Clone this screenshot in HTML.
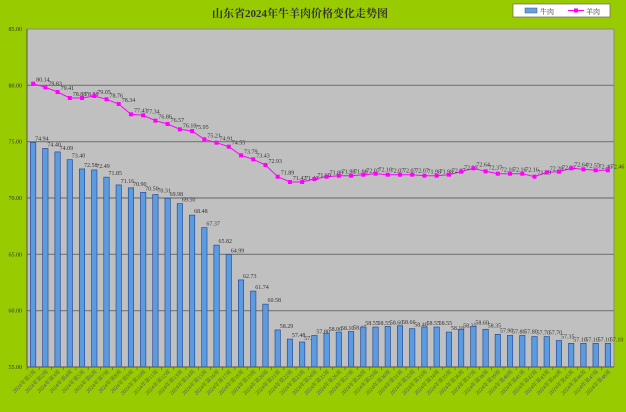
<!DOCTYPE html>
<html><head><meta charset="utf-8"><style>
body{margin:0;background:#99cc00;}
svg{display:block}
text{font-family:"Liberation Serif","Noto Serif CJK SC",serif;}
</style></head><body>
<svg id="s" width="626" height="412" xmlns="http://www.w3.org/2000/svg">
<rect width="626" height="412" fill="#99cc00"/>
<text x="300" y="17" font-size="11" font-weight="bold" text-anchor="middle" fill="#333">山东省2024年牛羊肉价格变化走势图</text>
<rect x="513" y="4" width="97" height="13" fill="#fff" stroke="#666" stroke-width="0.7"/>
<rect x="525" y="8" width="12" height="5" fill="#6a9fdc" stroke="#2a4f9a" stroke-width="0.5"/>
<text x="540" y="14" font-size="7" fill="#333">牛肉</text>
<line x1="568" y1="10.5" x2="584" y2="10.5" stroke="#ff00ff" stroke-width="1"/>
<rect x="574" y="8.5" width="4" height="4" fill="#ff00ff"/>
<text x="586" y="14" font-size="7" fill="#333">羊肉</text>
<rect x="27" y="29" width="587" height="338" fill="#c0c0c0" stroke="#888" stroke-width="1"/>
<g id="g"></g>
</svg>
<script>
(function(){
var g=document.getElementById('g'),h='';
var T=29,B=367,L=27,W=587,n=48,cw=W/n;
function Y(v){return B-(v-55)*(B-T)/30;}
for(var v=55;v<=85;v+=5){var y=Y(v);
 if(v>55&&v<85)h+='<line x1="27" y1="'+y+'" x2="614" y2="'+y+'" stroke="#777" stroke-width="1.2"/>';
 h+='<text x="22" y="'+(y+2)+'" font-size="6" text-anchor="end" fill="#333">'+v.toFixed(2)+'</text>';}
var beef=[74.94,74.40,74.09,73.40,72.58,72.49,71.85,71.16,70.90,70.50,70.31,69.98,69.50,68.48,67.37,65.82,64.99,62.73,61.74,60.58,58.29,57.48,57.22,57.80,58.00,58.10,58.15,58.55,58.55,58.60,58.66,58.40,58.55,58.55,58.10,58.35,58.60,58.35,57.90,57.80,57.80,57.70,57.70,57.35,57.10,57.10,57.10,57.10];
var ly=[83.7,87.3,92,98,98,96,99.3,104,114.3,115.3,120.7,124,129.3,131,139.3,142.7,146.7,155.3,159.3,165,176.7,182,182,179,176.7,175.7,175.7,174.7,173.7,174.7,174.7,174.7,175.7,175.7,174.7,171.7,168.3,171.3,173.7,173.7,173.7,176.7,172.3,171.7,168.3,169.3,170.3,170.3];
var pts=[];
for(var i=0;i<n;i++){var cx=L+cw*(i+0.5),y=Y(beef[i]);
 h+='<rect x="'+(cx-2.7)+'" y="'+y+'" width="5.4" height="'+(B-y)+'" fill="#5b9bdf" stroke="#1f3f8f" stroke-width="0.6"/>';
 h+='<text x="'+(cx+2)+'" y="'+(y-2)+'" font-size="6" fill="#333">'+beef[i].toFixed(2)+'</text>';
 h+='<line x1="'+(L+cw*i)+'" y1="367" x2="'+(L+cw*i)+'" y2="370" stroke="#555" stroke-width="0.6"/>';
 h+='<text transform="translate('+(cx+3)+',372) rotate(-45)" font-size="5.5" text-anchor="end" fill="#555">2024年第'+(i+1)+'周</text>';
 pts.push(cx+','+ly[i]);}
h+='<polyline points="'+pts.join(' ')+'" fill="none" stroke="#ff00ff" stroke-width="1"/>';
for(var i=0;i<n;i++){var cx=L+cw*(i+0.5),v=55+(B-ly[i])*30/(B-T);
 h+='<rect x="'+(cx-2)+'" y="'+(ly[i]-2)+'" width="4" height="4" fill="#ff00ff"/>';
 h+='<text x="'+(cx+3)+'" y="'+(ly[i]-2)+'" font-size="6" fill="#333">'+v.toFixed(2)+'</text>';}
h+='<line x1="27" y1="367" x2="614" y2="367" stroke="#555" stroke-width="1"/>';
h+='<line x1="27" y1="29" x2="27" y2="367" stroke="#555" stroke-width="1"/>';
g.innerHTML=h;
})();
</script>
</body></html>
